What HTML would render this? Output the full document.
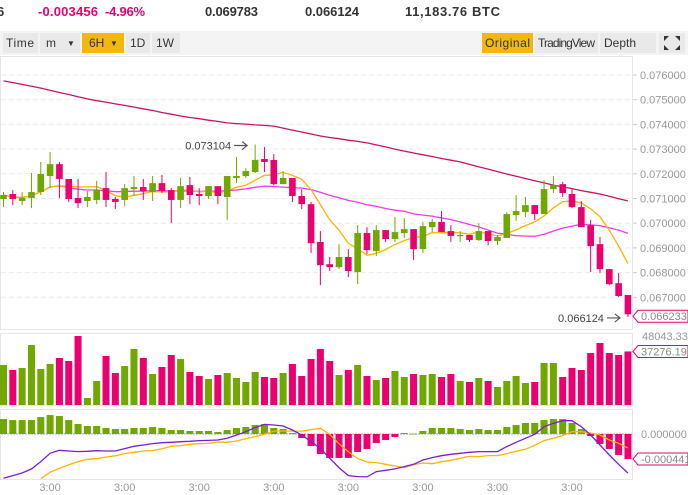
<!DOCTYPE html>
<html><head><meta charset="utf-8"><style>
html,body{margin:0;padding:0;background:#fff;width:688px;height:495px;overflow:hidden;font-family:"Liberation Sans",sans-serif}
svg{display:block}
.btn{font-size:12px;fill:#333}
</style></head><body>
<svg id="chart" width="688" height="495" viewBox="0 0 688 495" xmlns="http://www.w3.org/2000/svg">
<g font-weight="bold" font-size="13">
<text x="-3" y="16" fill="#333">6</text>
<text x="38" y="16" fill="#ea0070" textLength="60">-0.003456</text>
<text x="105" y="16" fill="#ea0070" textLength="40">-4.96%</text>
<text x="205" y="16" fill="#333" textLength="53">0.069783</text>
<text x="305" y="16" fill="#333" textLength="54">0.066124</text>
<text x="405" y="16" fill="#333" textLength="95">11,183.76 BTC</text>
</g>
<rect x="0" y="31" width="688" height="24" fill="#f4f4f4"/>
<g><rect x="3" y="33" width="35" height="20" fill="#e9e9e9"/><text class="btn" x="6" y="47" textLength="28">Time</text></g>
<g><rect x="40" y="33" width="40" height="20" fill="#e9e9e9"/><text class="btn" x="46" y="47">m</text><text x="67" y="46" font-size="8" fill="#333">▼</text></g>
<g><rect x="82" y="33" width="42" height="20" fill="#f0b90b"/><text class="btn" x="89" y="47">6H</text><text x="110" y="46" font-size="8" fill="#333">▼</text></g>
<g><rect x="126" y="33" width="24" height="20" fill="#e9e9e9"/><text class="btn" x="130" y="47">1D</text></g>
<g><rect x="152" y="33" width="28" height="20" fill="#e9e9e9"/><text class="btn" x="156" y="47">1W</text></g>
<g><rect x="482" y="33" width="51" height="20" fill="#f0b90b"/><text class="btn" x="485" y="47" textLength="45">Original</text></g>
<g><rect x="535" y="33" width="63" height="20" fill="#e9e9e9"/><text class="btn" x="538" y="47" textLength="57">TradingView</text></g>
<g><rect x="600" y="33" width="56" height="20" fill="#e9e9e9"/><text class="btn" x="604" y="47" textLength="32">Depth</text></g>
<g><rect x="659" y="33" width="26" height="20" fill="#e9e9e9"/>
<path d="M664 36h5l-5 5zM680 36h-5l5 5zM664 50h5l-5-5zM680 50h-5l5-5z" fill="#333"/></g>
<rect x="0.5" y="56.5" width="632" height="273" fill="none" stroke="#e6e6e6"/>
<rect x="0.5" y="333.5" width="632" height="72" fill="none" stroke="#e6e6e6"/>
<rect x="0.5" y="409.5" width="632" height="70" fill="none" stroke="#e6e6e6"/>
<g id="layer"></g>
</svg>
<script>
const opens=[.0709,.0711,.07082,.07094,.07118,.07183,.07231,.07171,.07094,.07082,.07086,.07134,.0709,.07086,.0713,.07138,.07118,.07154,.07126,.07086,.07146,.0711,.07102,.07142,.07098,.07175,.07183,.07199,.07252,.07248,.0715,.07175,.07102,.07069,.06916,.06826,.06814,.06855,.06794,.06952,.06879,.06964,.06928,.06952,.06968,.06887,.06976,.06997,.0696,.0694,.06944,.06924,.0696,.0692,.06932,.07025,.07037,.07065,.07029,.0713,.0715,.0711,.07057,.06984,.06907,.06806,.06749,.06701];
const highs=[.07118,.07126,.07118,.07195,.0724,.0728,.0724,.07171,.07171,.07122,.07163,.07199,.07098,.0715,.07183,.07171,.07183,.07187,.07134,.07175,.07179,.07134,.07142,.07142,.07183,.0726,.07215,.073104,.073,.07272,.07203,.07175,.0713,.07078,.0696,.06855,.06907,.06887,.06984,.06976,.06984,.06964,.07017,.07013,.06968,.06997,.07009,.07041,.06984,.0696,.06944,.06992,.0696,.06944,.07037,.07106,.07098,.07065,.07167,.07183,.07159,.07134,.07082,.07005,.06936,.06806,.0679,.06701];
const lows=[.07057,.07065,.07065,.07053,.07106,.07134,.07094,.07078,.07053,.07057,.07069,.07057,.07049,.07061,.07102,.07086,.07082,.07114,.06992,.07053,.07069,.07065,.0709,.07069,.07005,.07154,.07175,.07195,.07199,.07146,.0715,.07078,.07049,.06871,.06741,.06798,.06806,.06774,.06745,.06867,.06859,.06916,.06916,.06932,.06843,.06871,.06956,.06956,.06916,.06916,.06916,.0692,.06903,.06903,.06932,.07001,.07017,.07005,.07029,.07114,.07098,.07053,.06976,.06794,.0679,.06741,.06693,.066124];
const closes=[.07106,.0709,.07094,.07118,.07191,.07231,.07171,.0709,.07073,.07098,.07126,.07086,.07078,.07134,.07138,.07122,.07154,.07122,.07086,.07142,.07106,.07102,.07142,.07102,.07183,.07183,.07203,.07248,.0724,.0715,.07175,.07102,.07069,.06911,.06822,.06814,.06855,.06798,.06952,.06883,.06964,.06928,.06956,.06968,.06887,.0698,.06997,.06956,.0694,.06944,.06924,.0696,.0692,.06936,.07029,.07041,.07065,.07029,.0713,.07146,.07114,.07057,.06976,.06899,.06806,.06745,.06697,.066233];
const volumes=[27850,24370,25760,41780,25070,28550,32730,30640,48043,4870,16710,34120,22280,27150,38990,32730,21580,26460,34810,32030,22980,20190,18100,20890,22280,18800,16010,22980,19500,18800,22280,28550,20190,32030,38990,30640,20890,24370,27850,20190,17410,18800,23670,19500,21580,20890,21580,19500,21580,16710,16010,18800,16710,12530,16710,20190,15320,16010,29240,29240,19500,25760,24370,36210,43170,36210,34810,37276];
const ma99=[.07568,.07561,.07554,.07546,.07539,.0753,.07521,.07513,.07504,.07495,.07488,.07482,.07475,.07469,.07462,.07455,.07448,.0744,.07433,.07426,.0742,.07415,.07409,.07404,.07398,.07395,.07393,.0739,.07388,.07385,.07377,.07369,.07361,.07353,.07345,.07339,.07334,.07328,.07323,.07317,.07309,.07301,.07292,.07284,.07276,.07269,.07262,.07254,.07247,.0724,.0723,.0722,.07211,.07201,.07191,.07182,.07173,.07164,.07155,.07146,.07139,.07132,.07124,.07117,.0711,.07101,.07091,.07082];
// MACD values in units of 1e-6
const macdHist=[264,246,246,246,299,334,317,246,176,141,141,106,88,88,106,106,123,106,70,70,53,53,53,35,70,106,123,158,176,106,88,18,-70,-211,-352,-422,-422,-422,-317,-264,-158,-106,-53,18,5,53,106,106,106,88,70,88,70,70,123,158,194,194,246,264,264,194,88,-35,-176,-264,-370,-441];
const macdDif=[-781,-734,-687,-616,-487,-340,-288,-299,-311,-305,-294,-299,-299,-258,-217,-194,-170,-153,-147,-135,-129,-117,-112,-106,-76,-18,41,112,170,158,141,70,-18,-135,-252,-429,-593,-734,-751,-757,-663,-640,-616,-575,-534,-458,-417,-382,-358,-340,-323,-311,-311,-311,-223,-147,-76,-6,129,188,235,235,129,-18,-194,-370,-534,-687];
const priceTicks=[0.076,0.075,0.074,0.073,0.072,0.071,0.070,0.069,0.068,0.067];
const timeLabelIdx=[5,13,21,29,37,45,53,61];
const timeLabels=["3:00","3:00","3:00","3:00","3:00","3:00","3:00","3:00"];

const GREEN="#70a800",RED="#ea0070";
const NS="http://www.w3.org/2000/svg";
const layer=document.getElementById('layer');
function el(t,a,parent){const e=document.createElementNS(NS,t);for(const k in a)e.setAttribute(k,a[k]);(parent||layer).appendChild(e);return e;}
const xS=i=>3.5+i*9.32;
const yP=p=>73+(0.076-p)*24700;
const yV=v=>405-v/48043.33*69;
const yM=v=>434-v*0.0567;

priceTicks.forEach(t=>{
  const g=el('line',{x1:1,x2:632,y1:yP(t)+2,y2:yP(t)+2,stroke:'#ececec','stroke-dasharray':'5,3'});
  
  
  el('line',{x1:633,x2:637,y1:yP(t)+2,y2:yP(t)+2,stroke:'#ccc'});
  const tx=el('text',{x:640,y:yP(t)+6,'font-size':11,fill:'#999'});
  tx.textContent=t.toFixed(6);
  
  
});
function ma(n){return closes.map((c,i)=>{const s=closes.slice(Math.max(0,i-n+1),i+1);return s.reduce((a,b)=>a+b,0)/s.length;});}
function line(vals,ys,color,name,start){
  const pts=vals.map((v,i)=>i>=(start||0)?xS(i).toFixed(1)+','+ys(v).toFixed(1):null).filter(Boolean).join(' ');
  const p=el('polyline',{points:pts,fill:'none',stroke:color,'stroke-width':1.3});
  
  
}
line(ma99,yP,'#c9136a','ma99-line');
line(ma(25),yP,'#f03cf0','ma25-line');
line(ma(7),yP,'#ffb400','ma7-line');
closes.forEach((c,i)=>{
  const o=opens[i],up=c>=o,col=up?GREEN:RED,x=xS(i);
  const g=el('g',{});
  
  
  el('line',{x1:x,x2:x,y1:yP(highs[i]),y2:yP(lows[i]),stroke:col,'stroke-width':1},g);
  const t=yP(Math.max(o,c)),b=yP(Math.min(o,c));
  el('rect',{x:x-3.3,y:t,width:6.6,height:Math.max(1.2,b-t),fill:col},g);
});
volumes.forEach((v,i)=>{
  const r=el('rect',{x:xS(i)-3.5,y:yV(v),width:7,height:405-yV(v),fill:closes[i]>=opens[i]?GREEN:RED});
  
  
});
el('line',{x1:1,x2:632,y1:434,y2:434,stroke:'#888','stroke-width':0.8,'stroke-dasharray':'2,1'});
macdHist.forEach((v,i)=>{
  const y=yM(v);
  const r=el('rect',{x:xS(i)-3.5,y:Math.min(y,434),width:7,height:Math.max(0.8,Math.abs(434-y)),fill:v>=0?GREEN:RED});
  
  
});
const dea=macdDif.map((d,i)=>d-macdHist[i]);
line(dea,yM,'#ffb400','macd-dea-line',4);
line(macdDif,yM,'#7a1fd6','macd-dif-line');
timeLabelIdx.forEach((idx,k)=>{
  const t=el('text',{x:xS(idx),y:491,'font-size':11,fill:'#999','text-anchor':'middle'});
  t.textContent=timeLabels[k];
  
  
});
function tag(y,txt,name){
  const g=el('g',{});
  
  
  el('path',{d:`M633 ${y} l5 -6 h50 v12 h-50 z`,fill:'#fff',stroke:RED,'stroke-width':1},g);
  const t=el('text',{x:641,y:y+4,'font-size':11,fill:'#888'},g);t.textContent=txt;
}
tag(yP(closes[67])+2,closes[67].toFixed(6),'last-price-tag');
const vt=el('text',{x:642,y:yV(48043.33)+4,'font-size':11,fill:'#999'});vt.textContent='48043.33';


tag(yV(volumes[67]),'37276.19','last-volume-tag');
const mz=el('text',{x:641,y:438,'font-size':11,fill:'#999'});mz.textContent='0.000000';


tag(yM(macdHist[67]),'-0.000441','last-macd-tag');
function ann(i,val,name){
  const x=xS(i)-6,y=yP(val)+1;
  const t=el('text',{x:x-18,y:y+4,'font-size':11,fill:'#444','text-anchor':'end'});t.textContent=val.toFixed(6);
  
  
  el('path',{d:`M${x-15} ${y}h13m-5 -4l5 4l-5 4`,fill:'none',stroke:'#555','stroke-width':1.2});
}
let hi=0,lo=0;highs.forEach((h,i)=>{if(h>highs[hi])hi=i;});lows.forEach((l,i)=>{if(l<lows[lo])lo=i;});
ann(hi,highs[hi],'high-price-annotation');
ann(lo,lows[lo],'low-price-annotation');
</script>
</body></html>
